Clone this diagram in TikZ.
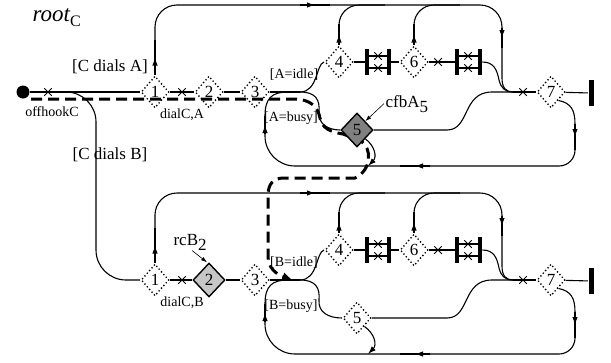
\documentclass[tikz,border=0pt]{standalone}
\usepackage{fontspec}
\setmainfont{Liberation Serif}
\usetikzlibrary{shapes.geometric,shapes.misc,arrows.meta,decorations.markings,backgrounds,calc}

\tikzset{
  dia/.style={diamond, draw, minimum width=28pt, minimum height=32pt, inner sep=0pt,
    line width=1.9pt, dash pattern=on 0pt off 3.6pt, line cap=round,
    font=\fontsize{17}{17}\selectfont},
  filldark/.style={solid, fill=black!50, line width=1.4pt, line cap=butt, minimum width=32pt, minimum height=34pt},
  filllight/.style={solid, fill=black!22, line width=1.4pt, line cap=butt, minimum width=32pt, minimum height=34pt},
  xm/.style={cross out, draw, minimum size=6.5pt, inner sep=0pt, line width=1pt},
  bar/.style={fill=black, minimum width=3.6pt, minimum height=26pt, inner sep=0pt},
  endbar/.style={fill=black, minimum width=5pt, minimum height=26pt, inner sep=0pt},
  midarr/.style={postaction={decorate}, decoration={markings, mark=at position #1 with {\arrow{Latex[length=8pt,width=5.5pt]}}}},
  midarr/.default=0.5,
  lab/.style={font=\fontsize{17}{17}\selectfont, inner sep=0pt},
  sm/.style={font=\fontsize{14}{14}\selectfont, inner sep=0pt},
  thinarr/.style={line width=0.6pt, -{Latex[length=6pt,width=4pt]}},
  dashedpath/.style={line width=3pt, dash pattern=on 11pt off 6pt},
}

\newcommand{\halfpart}[7]{%
\begin{scope}[shift={(0,#2)}]
  \node[dia] (#1d1) at (155,92) {1};
  \node[dia,#3] (#1d2) at (209,92) {2};
  \node[dia] (#1d3) at (255,92) {3};
  \node[dia] (#1d4) at (339,62) {4};
  \node[dia,#4] (#1d5) at (357,130) {5};
  \node[dia] (#1d6) at (414,62) {6};
  \node[dia] (#1d7) at (551,92) {7};
  \node[bar] (#1b1l) at (367,62) {};
  \node[bar] (#1b1r) at (389,62) {};
  \node[bar] (#1b2l) at (457,62) {};
  \node[bar] (#1b2r) at (480,62) {};
  \node[endbar] (#1end) at (591,93) {};
  \coordinate (#1J) at (300,92);
  \coordinate (#1M) at (513,92);
  % main chain
  \draw (#1d1) -- (#1d2);
  \draw (#1d2) -- (#1d3);
  \draw (#1d3) -- (#1J);
  \draw (#1J) .. controls (318,92) and (316,64) .. (#1d4.west);
  \draw (#1J) .. controls (316,92) and (320,100) .. (319,112) .. controls (318,124) and (328,130) .. (#1d5.west);
  \draw (#1d4) -- (#1b1l);
  \draw (#1b1r) -- (#1d6);
  \draw (#1d6) -- (#1b2l);
  \draw ([yshift=6pt]#1b1l.center) -- ([yshift=6pt]#1b1r.center);
  \draw ([yshift=-6pt]#1b1l.center) -- ([yshift=-6pt]#1b1r.center);
  \draw ([yshift=6pt]#1b2l.center) -- ([yshift=6pt]#1b2r.center);
  \draw ([yshift=-6pt]#1b2l.center) -- ([yshift=-6pt]#1b2r.center);
  % top loop
  \draw[midarr] (#1d1) -- (155,40);
  \draw[rounded corners=22pt] (155,40) |- (300,5);
  \draw[midarr] (300,5) -- (330,5);
  \draw[rounded corners=22pt] (330,5) -| (502,28);
  \draw[midarr] (502,28) -- (502,48);
  \draw (502,48) -- (502,78) .. controls (502,88) and (506,92) .. (#1M);
  \draw[midarr] (#1d4) -- (339,24);
  \draw[rounded corners=20pt] (339,24) |- (385,5);
  \draw[midarr] (#1d6) -- (414,24);
  \draw[rounded corners=20pt] (414,24) |- (460,5);
  % converge to 7
  \draw (#1b2r.east) .. controls (494,62) and (497,70) .. (499,80) .. controls (501,88) and (505,92) .. (#1M);
  \draw (#1d5) -- (447,130) .. controls (470,130) and (462,92) .. (492,92) -- (#1M);
  \draw (#1M) -- (#1d7);
  \draw (#1d7) -- (#1end);
  % bottom loop
  \draw (#1d7.south east) .. controls (571,103) and (575,110) .. (575,124);
  \draw[midarr] (575,124) -- (575,150);
  \draw[rounded corners=16pt] (575,150) |- (430,166);
  \draw[midarr] (430,166) -- (400,166);
  \draw[rounded corners=30pt] (400,166) -| (265,134);
  \draw[midarr] (265,134) -- (265,116);
  \draw (265,116) .. controls (265,98) and (272,92) .. (288,92) -- (#1J);
  \draw[-{Latex[length=8pt,width=5.5pt]}] (#1d5.south east) .. controls (375,146) and (377,157) .. (368,166);
  % crosses
  \node[xm] (#1x1) at (182,92) {};
  \node[xm] (#1x6) at (438,62) {};
  \node[xm] (#1x7) at (523,92) {};
  \node[xm] (#1b1a) at (378,56) {};
  \node[xm] (#1b1b) at (378,68) {};
  \node[xm] (#1b2a) at (468,56) {};
  \node[xm] (#1b2b) at (468,68) {};
  % labels
  \node[sm] (#1ld) at (182,115) {#5};
  \node[sm] (#1li) at (294,75) {#6};
  \node[sm] (#1lb) at (291,118) {#7};
\end{scope}}

\begin{document}
\begin{tikzpicture}[x=1pt,y=-1pt,line width=1.1pt]
\useasboundingbox (0,0) rectangle (611,362);

\halfpart{U}{0}{}{filldark}{dialC,A}{[A=idle]}{[A=busy]}
\halfpart{L}{188}{filllight}{}{dialC,B}{[B=idle]}{[B=busy]}

\node[circle, fill=black, inner sep=0pt, minimum size=13pt] (dot) at (23,92) {};
\coordinate (B0) at (64,92);
\draw (dot) -- (Ud1);
\draw[rounded corners=30pt] (B0) -| (96,186) |- (Ld1.west);
\node[xm] (x0) at (48,92) {};

\node[lab] (cda) at (110,67) {[C dials A]};
\node[lab] (cdb) at (110,155) {[C dials B]};
\node[sm] (offh) at (52,112) {offhookC};
\node[anchor=base west, inner sep=0pt, font=\fontsize{23}{23}\selectfont\itshape] (root) at (32,21) {root\raisebox{-5pt}{\upshape\fontsize{16}{16}\selectfont C}};
\node[lab, anchor=base west] (cfb) at (385,107) {cfbA\raisebox{-5pt}{5}};
\node[lab, anchor=base west] (rcb) at (173,245) {rcB\raisebox{-5pt}{2}};
\draw[thinarr] ([xshift=-1pt]cfb.west) -- (Ud5.north east);
\draw[thinarr] ([xshift=2pt]rcb.south) -- ([xshift=-2pt]Ld2.north);

\coordinate (dStart) at (31,99);
\coordinate (dEnd) at (294,281);
\begin{scope}[on background layer]
\draw[dashedpath, -{Latex[length=12pt,width=9pt]}] (dStart) -- (293,99)
  .. controls (312,99) and (318,108) .. (320,118)
  .. controls (322,128) and (330,132) .. (343,134) -- (361,141)
  .. controls (372,148) and (372,170) .. (355,178) -- (284,178)
  .. controls (273,178) and (268,184) .. (268,196) -- (268,256)
  .. controls (268,268) and (276,274) .. (dEnd);
\end{scope}
\end{tikzpicture}
\end{document}
